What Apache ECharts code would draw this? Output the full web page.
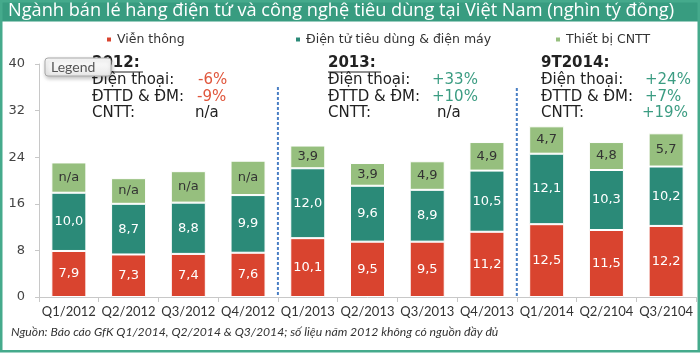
<!DOCTYPE html>
<html><head><meta charset="utf-8">
<script src="https://cdn.jsdelivr.net/npm/echarts@6/dist/echarts.min.js"></script>
<style>html,body{margin:0;padding:0;background:#fff}#c{width:700px;height:356px}</style>
</head><body><div id="c"></div>
<script>
const categories = ['Q1/2012','Q2/2012','Q3/2012','Q4/2012','Q1/2013','Q2/2013','Q3/2013','Q4/2013','Q1/2014','Q2/2104','Q3/2104'];
const vienThong = [7.9,7.3,7.4,7.6,10.1,9.5,9.5,11.2,12.5,11.5,12.2];
const dienTu = [10.0,8.7,8.8,9.9,12.0,9.6,8.9,10.5,12.1,10.3,10.2];
const cntt = [5.2,4.4,5.4,5.9,3.9,3.9,4.9,4.9,4.7,4.8,5.7];
const cnttLabels = ['n/a','n/a','n/a','n/a','3,9','3,9','4,9','4,9','4,7','4,8','5,7'];
const seriesNames = ['Viễn thông','Điện tử tiêu dùng & điện máy','Thiết bị CNTT'];
const colors = ['#d9442f','#2b8a78','#96bf7e'];
const yTicks = {min:0,max:40,interval:8};

const fmt = v => v.toFixed(1).replace('.', ',');
const chart = echarts.init(document.getElementById('c'), null, {renderer:'canvas'});
const labelFont = {fontFamily:'DejaVu Sans', fontSize:13};
function mkSeries(i, data, labelColor, labelFn){
  return {name:seriesNames[i], type:'bar', stack:'s', data:data, barWidth:35,
    itemStyle:{color:colors[i], borderColor:'#fff', borderWidth:1},
    label:{show:true, position:'inside', color:labelColor, ...labelFont, formatter:labelFn},
    emphasis:{disabled:true}};
}
const legendBase = {top:28, itemWidth:6, itemHeight:6, icon:'rect', itemGap:4,
  textStyle:{fontFamily:'DejaVu Sans', fontSize:12.5, color:'#333'}};
chart.setOption({
  animation:false,
  grid:{left:39, right:4, top:64, bottom:59},
  legend:[
    {...legendBase, left:100, data:[seriesNames[0]]},
    {...legendBase, left:289, data:[seriesNames[1]]},
    {...legendBase, left:549, data:[seriesNames[2]]}
  ],
  xAxis:{type:'category', data:categories,
    axisLine:{lineStyle:{color:'#c8c8c8'}}, axisTick:{show:true, lineStyle:{color:'#c8c8c8'}},
    axisLabel:{fontFamily:'Lato', fontSize:13, color:'#333', margin:8, interval:0}},
  yAxis:{type:'value', ...yTicks,
    axisLine:{show:true, lineStyle:{color:'#c8c8c8'}}, axisTick:{show:true, length:4, lineStyle:{color:'#c8c8c8'}},
    splitLine:{show:false},
    axisLabel:{fontFamily:'DejaVu Sans', fontSize:13, color:'#444', margin:14}},
  series:[
    mkSeries(0, vienThong, '#fff', p=>fmt(p.value)),
    mkSeries(1, dienTu, '#fff', p=>fmt(p.value)),
    mkSeries(2, cntt, '#333', p=>cnttLabels[p.dataIndex])
  ]
});

const x1 = (chart.convertToPixel({xAxisIndex:0}, categories[3]) + chart.convertToPixel({xAxisIndex:0}, categories[4]))/2;
const x2 = (chart.convertToPixel({xAxisIndex:0}, categories[7]) + chart.convertToPixel({xAxisIndex:0}, categories[8]))/2;
const y0 = chart.convertToPixel({yAxisIndex:0}, 0);

const aFont = 'DejaVu Sans';
const red = '#e0563c', grn = '#3b9c82';
function t(x,y,text,color,bold,size){
  return {type:'text', x:x, y:y, style:{text:text, fill:color||'#222', font:(bold?'bold ':'')+(size||15)+'px "'+aFont+'"', textVerticalAlign:'middle'}, z:10};
}
const g = [
  {type:'rect', shape:{x:0,y:0,width:700,height:21.5}, style:{fill:'#389c80'}, z:1},
  {type:'text', x:8, y:11, style:{text:'Ngành bán lẻ hàng điện tử và công nghệ tiêu dùng tại Việt Nam (nghìn tỷ đồng)', fill:'#fff', font:'18.2px "Open Sans"', textVerticalAlign:'middle'}, z:2},
  {type:'rect', shape:{x:1.25,y:1.25,width:697.5,height:350}, style:{fill:null, stroke:'#45aa8c', lineWidth:2.5}, z:3},
  {type:'line', shape:{x1:x1,y1:87,x2:x1,y2:y0}, style:{stroke:'#4a7fc4', lineWidth:2, lineDash:[3,2]}, z:5},
  {type:'line', shape:{x1:x2,y1:88,x2:x2,y2:y0}, style:{stroke:'#4a7fc4', lineWidth:2, lineDash:[3,2]}, z:5},
  t(92,63,'2012:','#222',true),
  {type:'line', shape:{x1:92,y1:72,x2:143,y2:72}, style:{stroke:'#222', lineWidth:1.2}, z:10},
  t(92,80,'Điện thoại:'), t(198,80,'-6%',red),
  t(92,97,'ĐTTD & ĐM:'), t(197,97,'-9%',red),
  t(92,113,'CNTT:'), t(195,113,'n/a'),
  t(328,63,'2013:','#222',true),
  {type:'line', shape:{x1:328,y1:72,x2:381,y2:72}, style:{stroke:'#222', lineWidth:1.2}, z:10},
  t(328,80,'Điện thoại:'), t(432,80,'+33%',grn),
  t(328,97,'ĐTTD & ĐM:'), t(432,97,'+10%',grn),
  t(328,113,'CNTT:'), t(437,113,'n/a'),
  t(541,63,'9T2014:','#222',true),
  t(541,80,'Điện thoại:'), t(645,80,'+24%',grn),
  t(541,97,'ĐTTD & ĐM:'), t(645,97,'+7%',grn),
  t(541,113,'CNTT:'), t(642,113,'+19%',grn),
  {type:'rect', shape:{x:45,y:58,width:66,height:18,r:3}, style:{fill:new echarts.graphic.LinearGradient(0,0,0,1,[{offset:0,color:'#ffffff'},{offset:1,color:'#e8e8e8'}]), stroke:'#a8a8a8', lineWidth:1, shadowBlur:4, shadowOffsetX:1, shadowOffsetY:2, shadowColor:'rgba(0,0,0,0.25)'}, z:20},
  {type:'text', x:51, y:67.5, style:{text:'Legend', fill:'#555', font:'14px Lato', textVerticalAlign:'middle'}, z:21},
  {type:'text', x:11, y:332, style:{text:'Nguồn: Báo cáo GfK Q1/2014, Q2/2014 & Q3/2014; số liệu năm 2012 không có nguồn đầy đủ', fill:'#333', font:'italic 12.2px Lato', textVerticalAlign:'middle'}, z:10}
];
chart.setOption({graphic:g});
</script></body></html>
